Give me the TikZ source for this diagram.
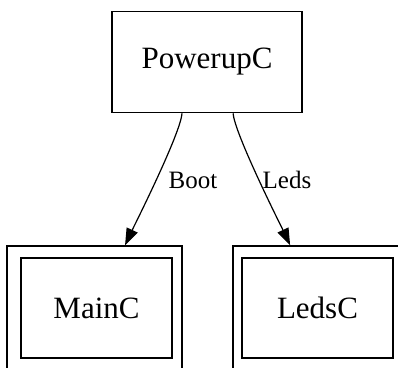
\documentclass[tikz,border=0pt]{standalone}
\usepackage{fontspec}
\setmainfont{Liberation Serif}
\usetikzlibrary{arrows.meta}

\begin{document}
\begin{tikzpicture}[x=1pt,y=1pt]
\tikzstyle{every node}+=[inner sep=0pt]
\tikzstyle{comp}=[draw=black, line width=1.6pt, minimum width=151pt, minimum height=100pt, font=\fontsize{31}{34}\selectfont]
\tikzstyle{shell}=[draw=black, line width=1.2pt, minimum height=124pt]
\tikzstyle{wire}=[draw=black, line width=1.2pt, -{Triangle[length=17pt,width=12pt]}]
\tikzstyle{lbl}=[font=\fontsize{25}{28}\selectfont]
\useasboundingbox (0,0) rectangle (398,367);
\node [comp, minimum width=190pt, minimum height=101pt] (power) at (207,305) {PowerupC};
\node [shell, minimum width=175pt] (mainOuter) at (94.5,59) {};
\node [comp] (main) at (96.5,59) {MainC};
\node [shell, minimum width=170pt] (ledsOuter) at (318,59) {};
\node [comp] (leds) at (317.5,59) {LedsC};
\draw [wire] (power.-116.6) to[out=-93,in=65,looseness=0.35] (mainOuter.64.6);
\draw [wire] (power.-63.4) to[out=-87,in=115,looseness=0.35] (ledsOuter.114.3);
\node [lbl] (bootLbl) at (193,187) {Boot};
\node [lbl] (ledsLbl) at (287,187) {Leds};
\end{tikzpicture}
\end{document}
